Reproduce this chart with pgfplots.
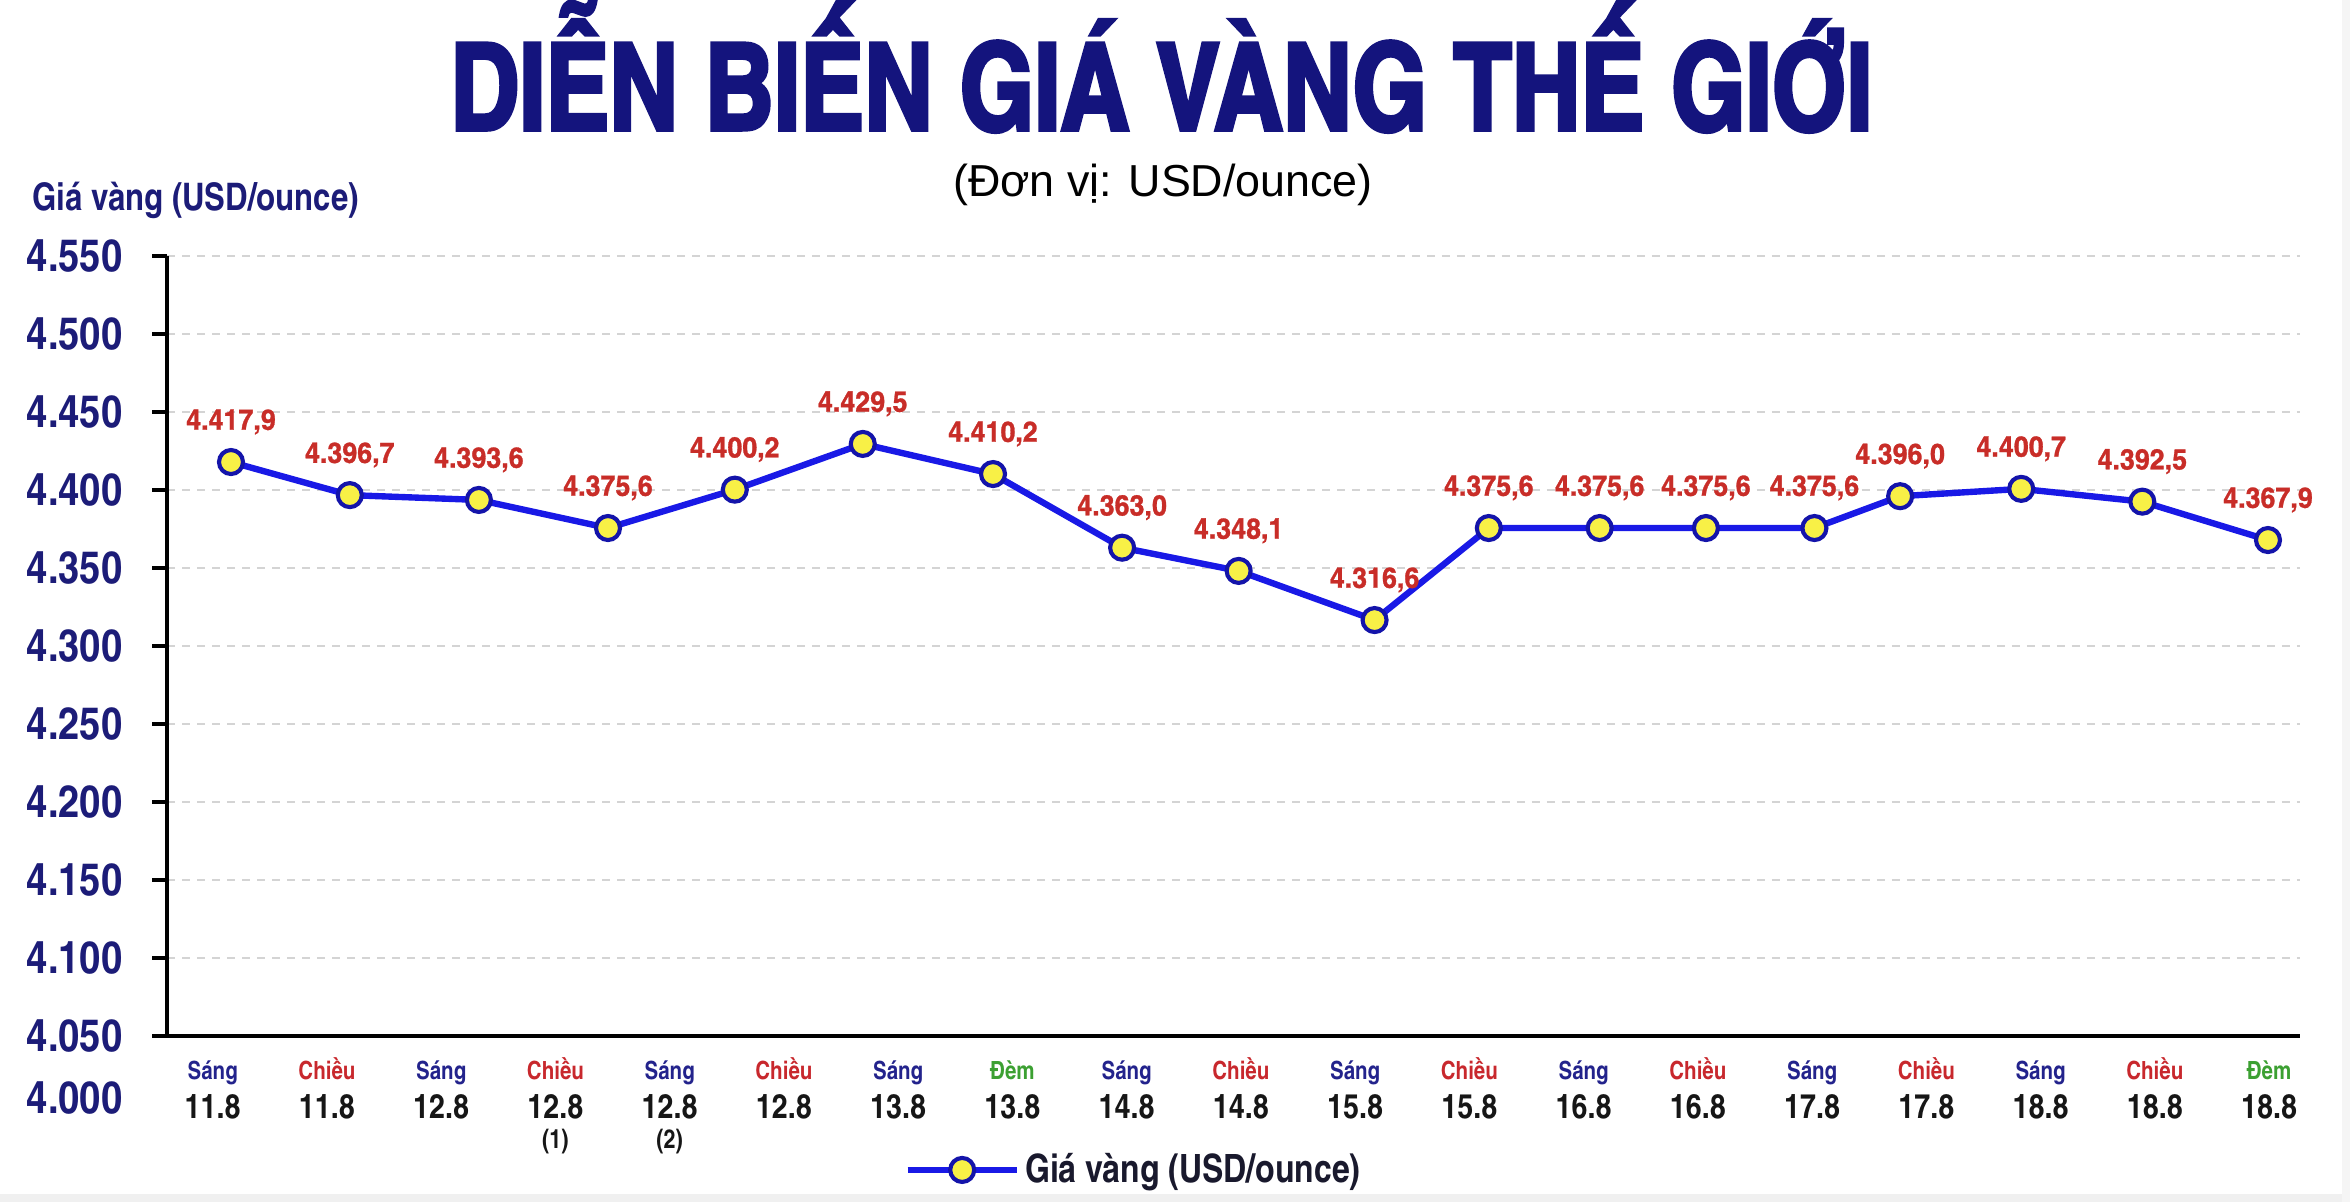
\documentclass[border=0pt]{standalone}
\usepackage{pgfplots}
\pgfplotsset{compat=1.18}
\usepackage{fontspec}
\setmainfont{Liberation Sans}
\newfontfamily\cnfont{texgyreheroscn-bold.otf}
\newfontfamily\numfont{texgyreheroscn-bold.otf}[FakeStretch=1.04]
\newfontfamily\lblfont{texgyreheroscn-bold.otf}[FakeStretch=1.15,FakeBold=1]
\newfontfamily\titlefont{texgyreheroscn-bold.otf}[FakeStretch=0.965,FakeBold=3]

\definecolor{titlenavy}{RGB}{20,20,125}
\definecolor{navy}{RGB}{28,28,120}
\definecolor{sang}{RGB}{35,35,140}
\definecolor{chieu}{RGB}{200,40,45}
\definecolor{dem}{RGB}{60,160,50}
\definecolor{lblred}{RGB}{200,45,40}
\definecolor{lineblue}{RGB}{25,25,230}
\definecolor{mkfill}{RGB}{248,240,70}
\definecolor{mkedge}{RGB}{20,20,170}
\definecolor{gridgray}{RGB}{212,212,212}
\definecolor{datecol}{RGB}{22,22,22}
\definecolor{legtext}{RGB}{25,25,45}

% category label: word on top, date below
\newcommand\xl[3]{\rule{0pt}{3.6mm}\textcolor{#1}{#2}\\\textcolor{datecol}{\numfont\fontsize{12.8}{14.8}\selectfont #3}}
\newcommand\xlb[4]{\xl{#1}{#2}{#3}\\[-3.4pt]{\cnfont\fontsize{10}{14.8}\selectfont\color{datecol}#4}}

\begin{document}
\begin{tikzpicture}
\useasboundingbox (-22.27mm,-22.13mm) rectangle (291.07mm,138.13mm);
\fill[gray!12] (-22.27mm,-22.13mm) rectangle (291.07mm,-21.07mm);
\fill[gray!8] (290.0mm,-22.13mm) rectangle (291.07mm,138.13mm);
\begin{axis}[
    at={(0,0)}, anchor=south west,
    scale only axis,
    width=284.4mm, height=104mm,
    xmin=-0.40, xmax=18.27,
    ymin=4050, ymax=4550,
    clip=false,
    axis x line*=bottom,
    axis y line*=left,
    axis line style={black, line width=0.5mm},
    xtick={0,...,18},
    xticklabels={
        \xl{sang}{Sáng}{11.8},
        \xl{chieu}{Chiều}{11.8},
        \xl{sang}{Sáng}{12.8},
        \xlb{chieu}{Chiều}{12.8}{(1)},
        \xlb{sang}{Sáng}{12.8}{(2)},
        \xl{chieu}{Chiều}{12.8},
        \xl{sang}{Sáng}{13.8},
        \xl{dem}{Đèm}{13.8},
        \xl{sang}{Sáng}{14.8},
        \xl{chieu}{Chiều}{14.8},
        \xl{sang}{Sáng}{15.8},
        \xl{chieu}{Chiều}{15.8},
        \xl{sang}{Sáng}{16.8},
        \xl{chieu}{Chiều}{16.8},
        \xl{sang}{Sáng}{17.8},
        \xl{chieu}{Chiều}{17.8},
        \xl{sang}{Sáng}{18.8},
        \xl{chieu}{Chiều}{18.8},
        \xl{dem}{Đèm}{18.8}},
    x tick style={draw=none},
    xticklabel style={align=center, anchor=north, inner sep=0pt,
        font=\cnfont\fontsize{9.5}{14.8}\selectfont, yshift=-0.1mm},
    ytick={4050,4100,...,4550},
    scaled y ticks=false,
    tick align=outside,
    major tick length=2mm,
    y tick style={black, line width=0.45mm},
    yticklabel style={font=\numfont\fontsize{17}{19}\selectfont, text=navy,
        inner sep=0pt, xshift=-3.87mm,
        /pgf/number format/1000 sep={.},
        /pgf/number format/assume math mode=true},
    ymajorgrids,
    grid style={gridgray, line width=0.3mm, dash pattern=on 1.1mm off 0.9mm},
    legend style={at={(0.3455,-0.1718)}, anchor=west, draw=none, fill=none,
        inner sep=0pt, font=\cnfont\fontsize{14.8}{16}\selectfont, text=legtext},
    legend image code/.code={\draw[#1, mark repeat=2, mark phase=2]
        plot coordinates {(0mm,0mm) (7.27mm,0mm) (14.53mm,0mm)};},
    nodes near coords,
    point meta=explicit symbolic,
    every node near coord/.append style={font=\lblfont\fontsize{10.8}{12}\selectfont,
        text=lblred, inner sep=0pt, yshift=3.4mm},
]
\addplot[lineblue, line width=0.85mm, mark=*, mark size=1.6mm,
    mark options={fill=mkfill, draw=mkedge, line width=0.55mm}]
    table[meta=lab] {
x      y       lab
0.16   4417.9  4.417,9
1.20   4396.7  4.396,7
2.33   4393.6  4.393,6
3.46   4375.6  4.375,6
4.57   4400.2  4.400,2
5.69   4429.5  4.429,5
6.83   4410.2  4.410,2
7.96   4363.0  4.363,0
8.98   4348.1  4.348,1
10.17  4316.6  4.316,6
11.17  4375.6  4.375,6
12.14  4375.6  4.375,6
13.07  4375.6  4.375,6
14.02  4375.6  4.375,6
14.77  4396.0  4.396,0
15.83  4400.7  4.400,7
16.89  4392.5  4.392,5
17.99  4367.9  4.367,9
};
\addlegendentry{Giá vàng (USD/ounce)}
\end{axis}
\node[anchor=base, text=titlenavy, inner sep=0pt] at (132.6mm,120.8mm)
    {\titlefont\fontsize{45.8}{50}\selectfont DIỄN BIẾN GIÁ VÀNG THẾ GIỚI};
\node[anchor=base, text=black, inner sep=0pt] at (132.8mm,111.9mm)
    {\fontsize{17}{20}\selectfont (Đơn vị: USD/ounce)};
\node[anchor=base west, text=navy, inner sep=0pt] at (-18.0mm,110.1mm)
    {\cnfont\fontsize{14.4}{16}\selectfont Giá vàng (USD/ounce)};
\node[anchor=base east, text=navy, inner sep=0pt] at (-5.87mm,-10.3mm)
    {\numfont\fontsize{17}{19}\selectfont 4.000};
\end{tikzpicture}
\end{document}
